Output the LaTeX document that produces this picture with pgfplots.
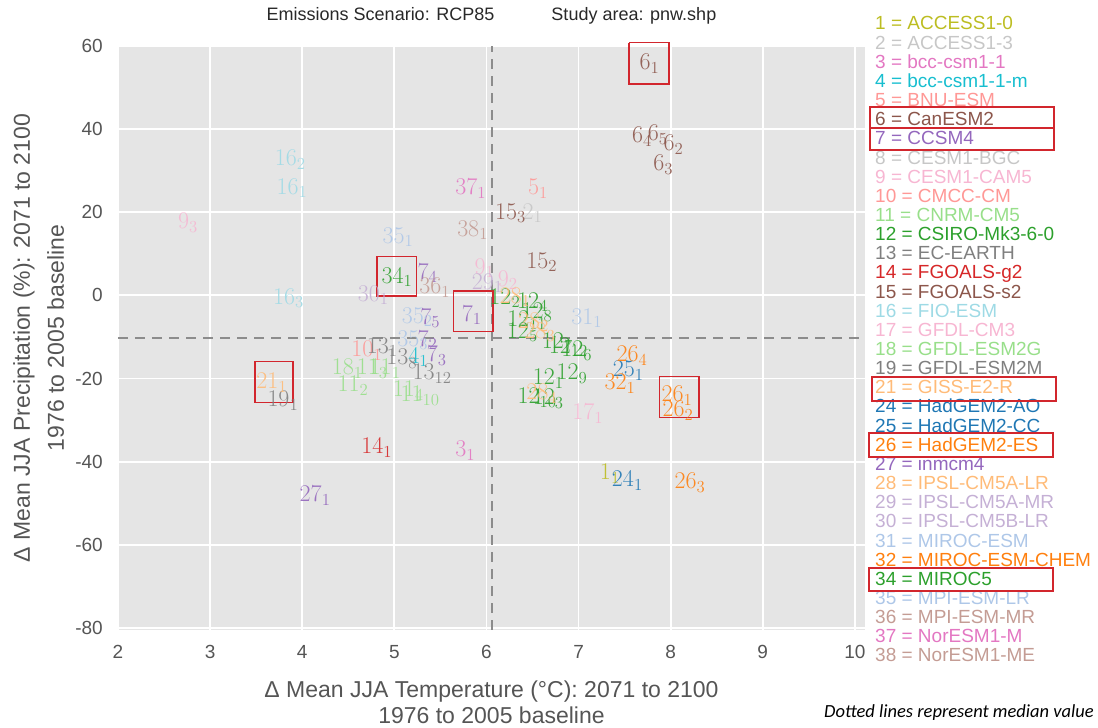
\RequirePackage{fix-cm}
\documentclass[border=0pt]{standalone}
\usepackage{fontspec}
\setmainfont{Liberation Sans}
\newfontfamily\carlito{Carlito}
\usepackage{pgfplots}
\pgfplotsset{compat=1.18}

\definecolor{bg}{RGB}{229,229,229}
\definecolor{tickc}{RGB}{85,85,85}
\definecolor{titlec}{RGB}{40,40,40}
\definecolor{medc}{RGB}{140,140,140}
\definecolor{boxred}{RGB}{210,38,45}
\definecolor{c1}{HTML}{BCBD22}
\definecolor{c2}{HTML}{C7C7C7}
\definecolor{c3}{HTML}{E377C2}
\definecolor{c4}{HTML}{17BECF}
\definecolor{c5}{HTML}{FF9896}
\definecolor{c6}{HTML}{8C564B}
\definecolor{c7}{HTML}{9467BD}
\definecolor{c8}{HTML}{C7C7C7}
\definecolor{c9}{HTML}{F7B6D2}
\definecolor{c10}{HTML}{FF9896}
\definecolor{c11}{HTML}{98DF8A}
\definecolor{c12}{HTML}{2CA02C}
\definecolor{c13}{HTML}{7F7F7F}
\definecolor{c14}{HTML}{D62728}
\definecolor{c15}{HTML}{8C564B}
\definecolor{c16}{HTML}{9EDAE5}
\definecolor{c17}{HTML}{F7B6D2}
\definecolor{c18}{HTML}{98DF8A}
\definecolor{c19}{HTML}{7F7F7F}
\definecolor{c21}{HTML}{FFBB78}
\definecolor{c24}{HTML}{1F77B4}
\definecolor{c25}{HTML}{1F77B4}
\definecolor{c26}{HTML}{FF7F0E}
\definecolor{c27}{HTML}{9467BD}
\definecolor{c28}{HTML}{FFBB78}
\definecolor{c29}{HTML}{C5B0D5}
\definecolor{c30}{HTML}{C5B0D5}
\definecolor{c31}{HTML}{AEC7E8}
\definecolor{c32}{HTML}{FF7F0E}
\definecolor{c34}{HTML}{2CA02C}
\definecolor{c35}{HTML}{AEC7E8}
\definecolor{c36}{HTML}{C49C94}
\definecolor{c37}{HTML}{E377C2}
\definecolor{c38}{HTML}{C49C94}

\newcommand\lf{\fontsize{24}{24}\selectfont}
\pgfplotsset{lbl/.style={draw=none, mark=none, nodes near coords,
  point meta=explicit symbolic,
  nodes near coords align={anchor=center},
  every node near coord/.append style={font=\lf, text=#1, inner sep=0pt, anchor=center, text opacity=0.9}}}

\begin{document}
\begin{tikzpicture}[x=1pt,y=1pt]
\useasboundingbox (0,0) rectangle (1098,728);
\begin{axis}[
  at={(118pt,98pt)}, anchor=south west,
  scale only axis, width=747pt, height=584pt,
  xmin=2, xmax=10.11, ymin=-80.5, ymax=60,
  clip=false,
  axis background/.style={fill=bg},
  axis line style={draw=none},
  tick style={draw=none},
  grid=major, major grid style={white, line width=1.8pt},
  xtick={2,3,...,10}, ytick={-80,-60,...,60},
  /pgf/number format/assume math mode=true,
  ticklabel style={font=\fontsize{19}{19}\selectfont, text=tickc},
  yticklabel style={inner sep=0pt, xshift=-15pt},
  xticklabel style={inner sep=0pt, yshift=-15pt},
  title={Emissions Scenario: RCP85\hspace{57pt}Study area: pnw.shp},
  title style={font=\fontsize{18}{18}\selectfont, text=titlec, at={(axis description cs:0.5,1)}, anchor=base, yshift=19pt, inner sep=0pt},
  xlabel={Δ Mean JJA Temperature (°C): 2071 to 2100\\1976 to 2005 baseline},
  xlabel style={font=\fontsize{23}{26}\selectfont, text=tickc, align=center, at={(axis description cs:0.5,0)}, anchor=north, yshift=-51pt, inner sep=0pt},
  ylabel={Δ Mean JJA Precipitation (\%): 2071 to 2100\\1976 to 2005 baseline},
  ylabel style={font=\fontsize{23}{34}\selectfont, text=tickc, align=center, at={(axis description cs:-0.1406,0.5)}, anchor=north, inner sep=0pt},
]
% median lines
\addplot[medc, line width=1.8pt, dash pattern=on 10pt off 7pt] coordinates {(6.06,-80.5) (6.06,60)};
\addplot[medc, line width=1.8pt, dash pattern=on 10pt off 7pt] coordinates {(2,-10.3) (10.11,-10.3)};

\addplot[lbl=c1] coordinates {(7.34,-42.9)[$1_{1}$]};
\addplot[lbl=c2] coordinates {(6.50,19.8)[$2_{1}$]};
\addplot[lbl=c3] coordinates {(5.77,-37.4)[$3_{1}$]};
\addplot[lbl=c4] coordinates {(5.26,-14.9)[$4_{1}$]};
\addplot[lbl=c5] coordinates {(6.56,25.6)[$5_{1}$]};
\addplot[lbl=c6] coordinates {(7.77,55.7)[$6_{1}$] (8.03,36.2)[$6_{2}$] (7.92,31.4)[$6_{3}$] (7.69,38.1)[$6_{4}$] (7.86,38.6)[$6_{5}$]};
\addplot[lbl=c7] coordinates {(5.84,-4.8)[$7_{1}$] (5.36,-10.8)[$7_{2}$] (5.46,-14.5)[$7_{3}$] (5.36,5.3)[$7_{4}$] (5.39,-5.5)[$7_{5}$]};
\addplot[lbl=c9] coordinates {(5.98,6.5)[$9_{1}$] (6.23,3.6)[$9_{2}$] (2.76,17.4)[$9_{3}$]};
\addplot[lbl=c10] coordinates {(4.70,-13.3)[$10_{1}$]};
\addplot[lbl=c11] coordinates {(4.90,-17.6)[$11_{1}$] (4.55,-21.7)[$11_{2}$] (4.76,-17.6)[$11_{3}$] (5.15,-22.9)[$11_{4}$] (5.28,-24.1)[$11_{10}$]};
\addplot[lbl=c12] coordinates {(6.20,-0.7)[$12_{2}$] (6.50,-1.7)[$12_{4}$] (6.55,-4.1)[$12_{8}$] (6.44,-6.0)[$12_{11}$] (6.39,-8.9)[$12_{5}$] (6.77,-11.3)[$12_{7}$] (6.89,-12.5)[$12_{12}$] (6.98,-13.3)[$12_{6}$] (6.67,-20.0)[$12_{1}$] (6.93,-18.8)[$12_{9}$] (6.55,-24.6)[$12_{10}$] (6.67,-24.8)[$12_{3}$]};
\addplot[lbl=c13] coordinates {(4.87,-12.5)[$13_{1}$] (5.08,-15.2)[$13_{8}$] (5.41,-18.8)[$13_{12}$]};
\addplot[lbl=c14] coordinates {(4.81,-36.7)[$14_{1}$]};
\addplot[lbl=c15] coordinates {(6.60,8.0)[$15_{2}$] (6.26,19.8)[$15_{3}$]};
\addplot[lbl=c16] coordinates {(3.89,25.8)[$16_{1}$] (3.87,32.6)[$16_{2}$] (3.85,-0.7)[$16_{3}$]};
\addplot[lbl=c17] coordinates {(7.10,-28.5)[$17_{1}$]};
\addplot[lbl=c18] coordinates {(4.49,-17.6)[$18_{1}$]};
\addplot[lbl=c19] coordinates {(3.79,-25.3)[$19_{1}$]};
\addplot[lbl=c21] coordinates {(3.67,-21.0)[$21_{1}$]};
\addplot[lbl=c24] coordinates {(7.53,-44.6)[$24_{1}$]};
\addplot[lbl=c25] coordinates {(7.54,-18.1)[$25_{1}$]};
\addplot[lbl=c26] coordinates {(8.07,-24.1)[$26_{1}$] (8.08,-27.7)[$26_{2}$] (8.21,-45.1)[$26_{3}$] (7.58,-14.5)[$26_{4}$]};
\addplot[lbl=c27] coordinates {(4.14,-48.2)[$27_{1}$]};
\addplot[lbl=c28] coordinates {(6.31,-0.5)[$28_{1}$] (6.51,-6.5)[$28_{2}$] (6.58,-8.9)[$28_{3}$] (6.60,-23.6)[$28_{4}$]};
\addplot[lbl=c29] coordinates {(6.01,2.9)[$29_{1}$]};
\addplot[lbl=c30] coordinates {(4.77,0.0)[$30_{1}$]};
\addplot[lbl=c31] coordinates {(7.09,-5.5)[$31_{1}$]};
\addplot[lbl=c32] coordinates {(7.45,-21.2)[$32_{1}$]};
\addplot[lbl=c34] coordinates {(5.03,4.4)[$34_{1}$]};
\addplot[lbl=c35] coordinates {(5.04,14.0)[$35_{1}$] (5.25,-5.3)[$35_{2}$] (5.20,-10.8)[$35_{3}$]};
\addplot[lbl=c36] coordinates {(5.44,1.9)[$36_{1}$]};
\addplot[lbl=c37] coordinates {(5.83,25.6)[$37_{1}$]};
\addplot[lbl=c38] coordinates {(5.85,15.7)[$38_{1}$]};

% highlight boxes
\addplot[boxred, line width=1.5pt] coordinates {(7.55,60.8) (7.98,60.8) (7.98,50.9) (7.55,50.9) (7.55,60.8)};
\addplot[boxred, line width=1.5pt] coordinates {(4.81,9.4) (5.24,9.4) (5.24,-0.2) (4.81,-0.2) (4.81,9.4)};
\addplot[boxred, line width=1.5pt] coordinates {(5.64,1.0) (6.07,1.0) (6.07,-8.7) (5.64,-8.7) (5.64,1.0)};
\addplot[boxred, line width=1.5pt] coordinates {(3.49,-15.9) (3.90,-15.9) (3.90,-25.8) (3.49,-25.8) (3.49,-15.9)};
\addplot[boxred, line width=1.5pt] coordinates {(7.88,-19.5) (8.31,-19.5) (8.31,-29.4) (7.88,-29.4) (7.88,-19.5)};
\end{axis}

% model list
\foreach \n/\t [count=\i from 0] in {1/ACCESS1-0,2/ACCESS1-3,3/bcc-csm1-1,4/bcc-csm1-1-m,5/BNU-ESM,6/CanESM2,7/CCSM4,8/CESM1-BGC,9/CESM1-CAM5,10/CMCC-CM,11/CNRM-CM5,12/CSIRO-Mk3-6-0,13/EC-EARTH,14/FGOALS-g2,15/FGOALS-s2,16/FIO-ESM,17/GFDL-CM3,18/GFDL-ESM2G,19/GFDL-ESM2M,21/GISS-E2-R,24/HadGEM2-AO,25/HadGEM2-CC,26/HadGEM2-ES,27/inmcm4,28/IPSL-CM5A-LR,29/IPSL-CM5A-MR,30/IPSL-CM5B-LR,31/MIROC-ESM,32/MIROC-ESM-CHEM,34/MIROC5,35/MPI-ESM-LR,36/MPI-ESM-MR,37/NorESM1-M,38/NorESM1-ME}
{
  \node[anchor=base west, inner sep=0pt, text=c\n, font=\fontsize{19}{19}\selectfont] at (875,{728-30-19.15*\i}) {\n\ = \t};
}
\draw[boxred, line width=1.5pt] (870,621) rectangle (1054,600);
\draw[boxred, line width=1.5pt] (870,600) rectangle (1054,578);
\draw[boxred, line width=1.5pt] (872,351) rectangle (1056,327);
\draw[boxred, line width=1.5pt] (869,295) rectangle (1053,271);
\draw[boxred, line width=1.5pt] (869,160) rectangle (1053,137);

\node[anchor=base west, inner sep=0pt, font=\carlito\itshape\fontsize{18.5}{18.5}\selectfont] at (824,10) {Dotted lines represent median value};
\end{tikzpicture}
\end{document}
